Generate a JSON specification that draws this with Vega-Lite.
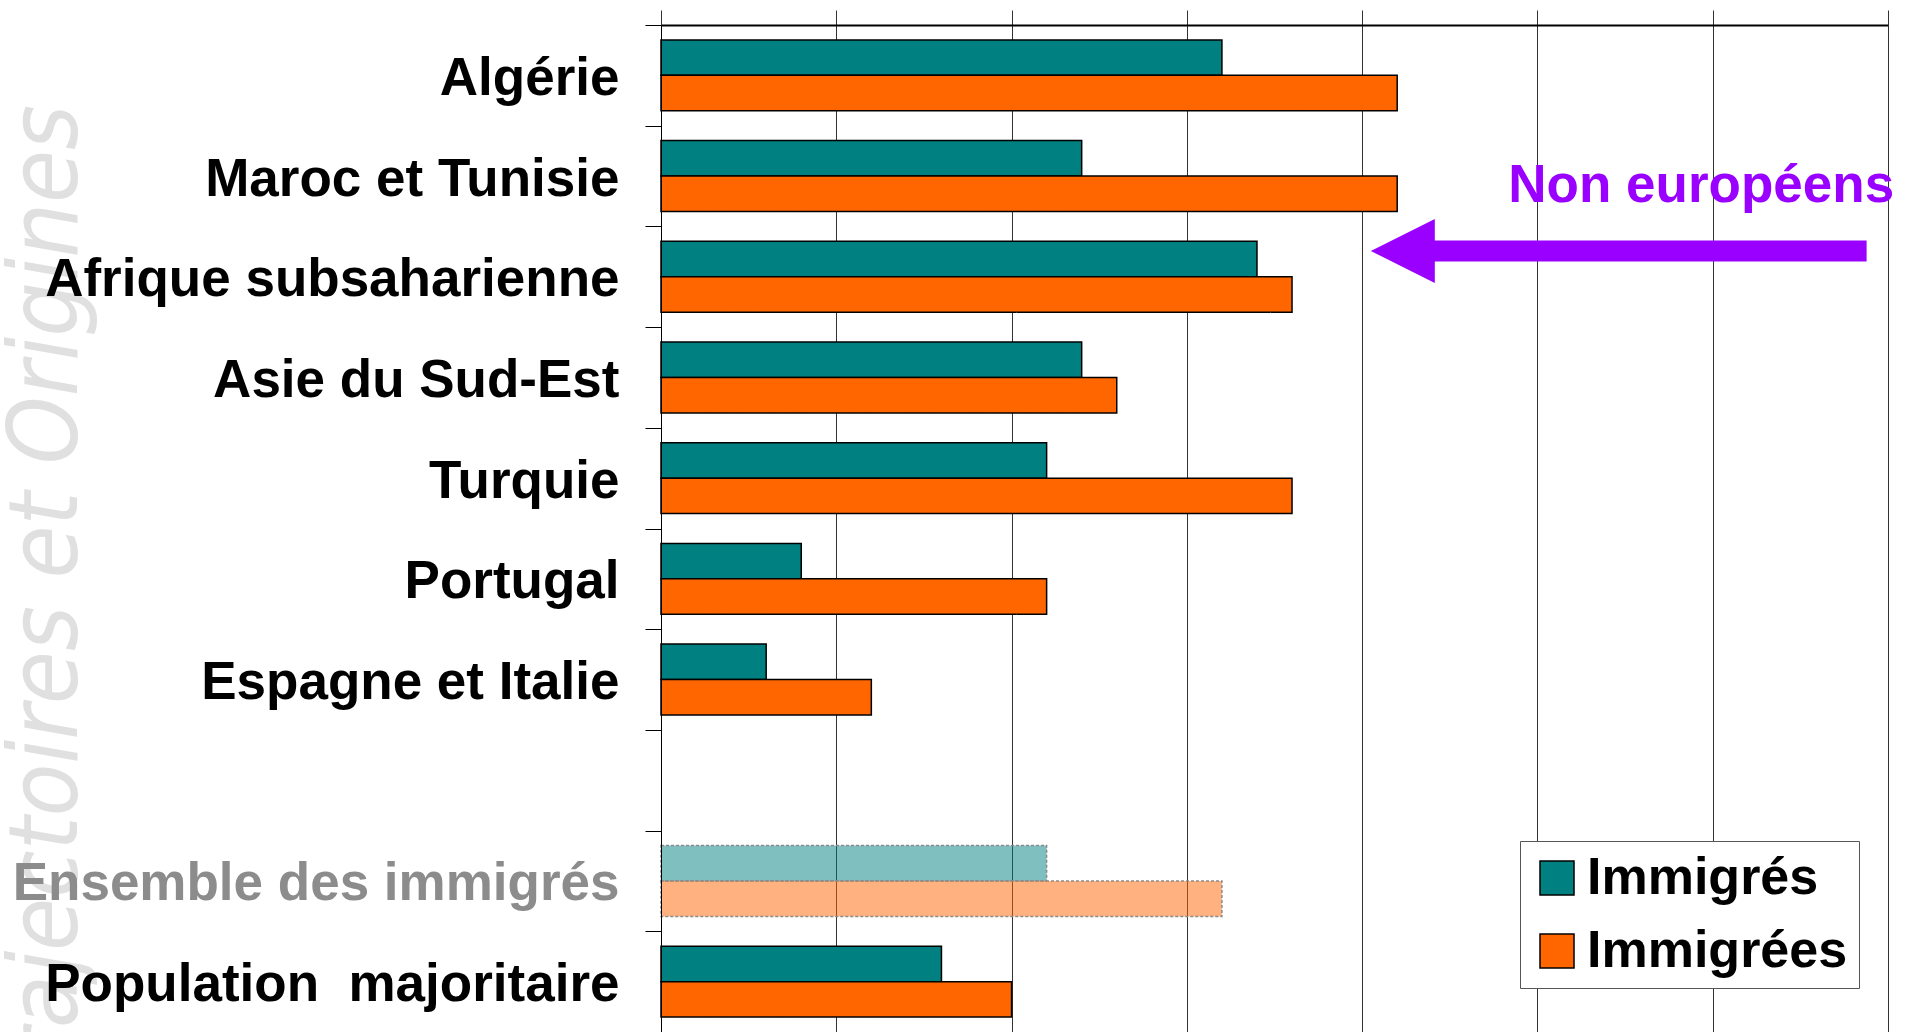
{
  "$schema": "https://vega.github.io/schema/vega-lite/v6.json",
  "width": 1227,
  "height": 1007,
  "autosize": {"type": "none"},
  "padding": {"left": 661, "top": 25, "right": 33, "bottom": 0},
  "background": "white",
  "config": {"view": {"stroke": null}, "font": "Liberation Sans"},
  "datasets": {
    "bars": [
      {"cat": "Algérie", "sexe": "Immigrés", "pct": 32},
      {"cat": "Algérie", "sexe": "Immigrées", "pct": 42},
      {"cat": "Maroc et Tunisie", "sexe": "Immigrés", "pct": 24},
      {"cat": "Maroc et Tunisie", "sexe": "Immigrées", "pct": 42},
      {"cat": "Afrique subsaharienne", "sexe": "Immigrés", "pct": 34},
      {"cat": "Afrique subsaharienne", "sexe": "Immigrées", "pct": 36},
      {"cat": "Asie du Sud-Est", "sexe": "Immigrés", "pct": 24},
      {"cat": "Asie du Sud-Est", "sexe": "Immigrées", "pct": 26},
      {"cat": "Turquie", "sexe": "Immigrés", "pct": 22},
      {"cat": "Turquie", "sexe": "Immigrées", "pct": 36},
      {"cat": "Portugal", "sexe": "Immigrés", "pct": 8},
      {"cat": "Portugal", "sexe": "Immigrées", "pct": 22},
      {"cat": "Espagne et Italie", "sexe": "Immigrés", "pct": 6},
      {"cat": "Espagne et Italie", "sexe": "Immigrées", "pct": 12},
      {"cat": "Ensemble des immigrés", "sexe": "Immigrés", "pct": 22},
      {"cat": "Ensemble des immigrés", "sexe": "Immigrées", "pct": 32},
      {"cat": "Population  majoritaire", "sexe": "Immigrés", "pct": 16},
      {"cat": "Population  majoritaire", "sexe": "Immigrées", "pct": 20}
    ],
    "watermark": [{"label": "Trajectoires et Origines", "x": -33.3, "cat": "Algérie"}],
    "note": [{"label": "Non européens", "x": 48.34, "cat": "Maroc et Tunisie"}],
    "arrow": [{"x": 43.8, "x2": 68.78, "cat": "Afrique subsaharienne"}],
    "head": [{"x": 42.32, "cat": "Afrique subsaharienne"}]
  },
  "layer": [
    {
      "data": {"name": "watermark"},
      "mark": {"type": "text", "angle": 270, "align": "right", "baseline": "alphabetic", "fontSize": 96, "font": "DejaVu Sans Condensed", "fontStyle": "italic", "fontWeight": 200, "color": "#e0e0e0"},
      "encoding": {
        "x": {"field": "x", "type": "quantitative"},
        "y": {"field": "cat", "type": "nominal", "bandPosition": 0.794},
        "text": {"field": "label"}
      }
    },
    {
      "data": {"name": "bars"},
      "mark": {"type": "bar", "strokeWidth": 1.5},
      "encoding": {
        "y": {
          "field": "cat",
          "type": "nominal",
          "scale": {
            "domain": ["Algérie", "Maroc et Tunisie", "Afrique subsaharienne", "Asie du Sud-Est", "Turquie", "Portugal", "Espagne et Italie", " ", "Ensemble des immigrés", "Population  majoritaire"],
            "paddingInner": 0,
            "paddingOuter": 0
          },
          "axis": {
            "title": null,
            "orient": "left",
            "zindex": 1,
            "tickBand": "extent",
            "tickSize": 16,
            "tickColor": "black",
            "tickWidth": 1,
            "domainColor": "black",
            "domainWidth": 1,
            "grid": false,
            "labelFontSize": 53,
            "labelFont": "Liberation Sans",
            "labelFontWeight": "bold",
            "labelColor": {"condition": {"test": "datum.value === 'Ensemble des immigrés'", "value": "#8c8c8c"}, "value": "black"},
            "labelPadding": 26,
            "labelOffset": 3,
            "labelLimit": 0,
            "labelExpr": "replace(datum.label, '  ', '\u00a0 ')"
          }
        },
        "yOffset": {
          "field": "sexe",
          "type": "nominal",
          "scale": {"domain": ["Immigrés", "Immigrées"], "paddingInner": 0, "paddingOuter": 0.42}
        },
        "x": {
          "field": "pct",
          "type": "quantitative",
          "scale": {"domain": [0, 70], "nice": false},
          "axis": {
            "orient": "top",
            "values": [0, 10, 20, 30, 40, 50, 60, 70],
            "labels": false,
            "title": null,
            "ticks": true,
            "tickSize": 15,
            "tickColor": "#333333",
            "domainColor": "black",
            "domainWidth": 2,
            "grid": true,
            "gridColor": "#333333",
            "gridWidth": 1,
            "gridOpacity": 1
          }
        },
        "color": {
          "field": "sexe",
          "type": "nominal",
          "scale": {"domain": ["Immigrés", "Immigrées"], "range": ["#008080", "#FF6600"]},
          "legend": {
            "title": null,
            "orient": "none",
            "legendX": 859,
            "legendY": 816,
            "symbolType": "square",
            "symbolSize": 1156,
            "symbolStrokeColor": "black",
            "symbolStrokeWidth": 1.5,
            "symbolOpacity": 1,
            "labelFontSize": 52,
            "labelFont": "Liberation Sans",
            "labelFontWeight": "bold",
            "labelColor": "black",
            "labelLimit": 0,
            "labelOffset": 4,
            "strokeColor": "#555555",
            "fillColor": "white",
            "padding": 11,
            "rowPadding": 21
          }
        },
        "fillOpacity": {"condition": {"test": "datum.cat === 'Ensemble des immigrés'", "value": 0.5}, "value": 1},
        "stroke": {"condition": {"test": "datum.cat === 'Ensemble des immigrés'", "value": "#8a8a8a"}, "value": "black"},
        "strokeDash": {"condition": {"test": "datum.cat === 'Ensemble des immigrés'", "value": [3, 2]}, "value": [1, 0]}
      }
    },
    {
      "data": {"name": "arrow"},
      "mark": {"type": "rule", "strokeWidth": 21, "color": "#9900FF", "strokeCap": "butt"},
      "encoding": {
        "x": {"field": "x", "type": "quantitative"},
        "x2": {"field": "x2"},
        "y": {"field": "cat", "type": "nominal", "bandPosition": 0.244}
      }
    },
    {
      "data": {"name": "head"},
      "mark": {"type": "point", "shape": "M-1,0L1,-1L1,1Z", "size": 4096, "filled": true, "color": "#9900FF", "opacity": 1, "strokeWidth": 0},
      "encoding": {
        "x": {"field": "x", "type": "quantitative"},
        "y": {"field": "cat", "type": "nominal", "bandPosition": 0.244}
      }
    },
    {
      "data": {"name": "note"},
      "mark": {"type": "text", "align": "left", "baseline": "alphabetic", "fontSize": 53, "fontWeight": "bold", "color": "#9900FF", "font": "Liberation Sans"},
      "encoding": {
        "x": {"field": "x", "type": "quantitative"},
        "y": {"field": "cat", "type": "nominal", "bandPosition": 0.758},
        "text": {"field": "label"}
      }
    }
  ]
}
